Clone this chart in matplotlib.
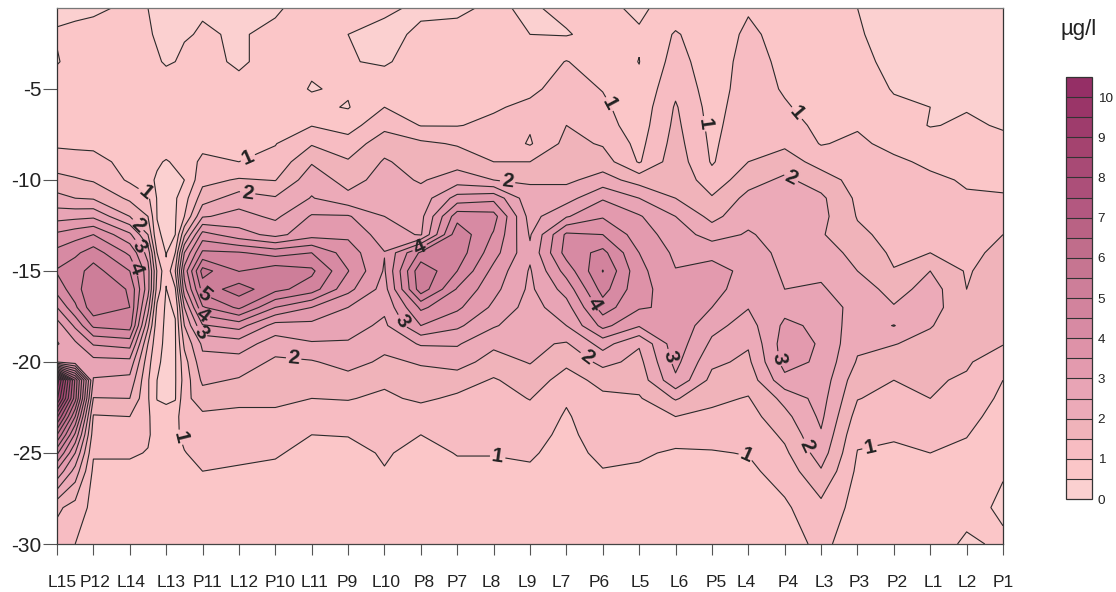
import numpy as np
import matplotlib
matplotlib.use('Agg')
import matplotlib.pyplot as plt
from matplotlib.transforms import ScaledTranslation

plt.rcParams['font.family'] = ['Liberation Sans', 'DejaVu Sans']
plt.rcParams['axes.unicode_minus'] = False

stations = ['L15', 'P12', 'L14', 'L13', 'P11', 'L12', 'P10', 'L11', 'P9', 'L10', 'P8', 'P7', 'L8', 'L9',
            'L7', 'P6', 'L5', 'L6', 'P5', 'L4', 'P4', 'L3', 'P3', 'P2', 'L1', 'L2', 'P1']
label_shift = [5, 2, 1, 5, 5, 5, 5, 3, -1, 2, 3, 0, -2, -3, -5, -4, 1, 4, 4, -2, 3, 3, 2, 3, 3, 1, 0]  # px

# depth of the grid rows (m)
depth = [-0.55, -2, -3.5, -5, -6, -7, -8, -9, -10, -11, -12, -13, -14, -15, -16, -17, -18, -19, -20, -21,
         -22, -23, -24, -25, -26, -28, -30]

# chlorophyll, one profile per station, top to bottom
L15 = [.45, .52, .48, .65, .72, .8, .92, 1.25, 1.65, 2.15, 2.8, 3.6, 4.15, 4.55, 4.2, 3.5, 2.75, 2.45, 3, 10.4, 9.6, 7.6, 6, 4.6, 3.4, 1.6, 1.25]
L15b = [.45, .55, .6, .68, .73, .8, .9, 1.2, 1.55, 2.0, 2.85, 3.8, 4.4, 4.8, 4.8, 4.4, 3.6, 2.9, 2.7, 6.4, 6.2, 5, 3.9, 3, 2.3, 1.3, 1]
P12 = [.45, .6, .65, .7, .75, .82, .9, 1.15, 1.45, 1.95, 2.9, 4.0, 4.75, 5.2, 5.4, 5.35, 4.6, 3.55, 2.82, 2.45, 1.98, 1.45, 1.25, 1.05, .9, .85, .8]
L14 = [.55, .6, .65, .7, .72, .75, .8, .85, .92, 1.4, 2.0, 3.1, 3.9, 4.5, 4.95, 5.0, 4.75, 3.7, 2.85, 2.35, 2.0, 1.5, 1.3, 1.05, .9, .85, .82]
L14b = [.5, .52, .6, .65, .7, .72, .72, .65, .6, 1.1, 1.5, 2, 2.8, 3.2, 3.2, 2.7, 2.1, 1.5, 1.2, 1.05, 1.05, 1.08, 1.05, .98, .9, .85, .82]
L14c = [.45, .48, .52, .6, .65, .7, .7, .55, .45, .47, .49, .55, 1.0, 1.45, 1.3, .9, .7, .62, .55, .5, .48, .7, .85, .9, .88, .83, .8]
L13 = [.42, .42, .48, .6, .65, .7, .7, .47, .42, .42, .42, .43, .47, .6, .48, .42, .42, .42, .42, .42, .45, .6, .75, .85, .85, .82, .8]
L13c = [.43, .45, .5, .6, .65, .7, .72, .55, .42, .44, .46, .5, 1.0, 1.5, .95, .55, .47, .46, .46, .46, .47, .75, .92, .9, .88, .84, .81]
L13b = [.45, .48, .55, .62, .68, .72, .75, .7, .5, .8, 1.0, 1.9, 3, 3.7, 3.3, 2.5, 2, 1.6, 1.3, 1.2, 1.35, 1.4, 1.1, .98, .9, .85, .82]
P11 = [.48, .52, .58, .65, .7, .75, .85, 1.12, 1.35, 1.75, 2.45, 3.7, 4.6, 5.7, 5.2, 4.45, 3.45, 2.6, 2.35, 2.1, 1.75, 1.4, 1.25, 1.15, 1.0, .85, .82]
L12 = [.4, .48, .46, .58, .65, .72, .85, 1.0, 1.55, 2.25, 2.67, 3.2, 4.55, 4.98, 5.75, 5.1, 3.7, 2.75, 2.3, 1.95, 1.6, 1.4, 1.25, 1.1, .95, .85, .82]
P10 = [.47, .55, .6, .65, .7, .8, .98, 1.15, 1.48, 2.05, 2.4, 2.85, 4.3, 5.3, 5.15, 4.0, 2.8, 2.25, 1.9, 1.75, 1.6, 1.4, 1.2, 1.05, .9, .85, .82]
L11 = [.6, .6, .55, .48, .6, .98, 1.45, 1.95, 2.3, 2.53, 3.05, 3.3, 4.5, 5.1, 4.75, 3.5, 2.85, 2.45, 1.95, 1.7, 1.5, 1.25, 1.0, .85, .82, .8, .8]
P9 = [.62, .5, .52, .55, .47, .8, 1.2, 1.55, 1.8, 2.15, 3.05, 3.4, 3.75, 4.02, 3.65, 3.0, 2.7, 2.45, 2.2, 1.8, 1.53, 1.25, 1.02, .85, .82, .8, .8]
L10 = [.55, .42, .46, .7, 1.0, 1.35, 1.8, 2.05, 2.2, 2.35, 2.5, 2.75, 3.02, 2.95, 2.8, 2.6, 2.4, 2.15, 1.9, 1.6, 1.4, 1.25, 1.15, 1.05, .98, .85, .8]
P8 = [.45, .55, .65, .72, .85, .98, 1.6, 1.8, 1.95, 2.2, 2.35, 2.45, 4.6, 5.4, 5.3, 4.1, 3.5, 2.55, 2.05, 1.8, 1.6, 1.2, 1.0, .85, .82, .8, .8]
P7 = [.45, .58, .65, .75, .85, .98, 1.45, 1.8, 2.25, 3.2, 4.3, 4.85, 4.8, 4.5, 3.95, 3.6, 3.1, 2.55, 2.2, 1.75, 1.4, 1.2, 1.1, 1.02, .9, .82, .8]
L8 = [.55, .62, .72, .85, .95, 1.1, 1.35, 1.5, 2.0, 3.35, 4.2, 3.95, 3.7, 3.35, 3.15, 2.9, 2.55, 2.1, 1.8, 1.45, 1.3, 1.2, 1.1, 1.02, .9, .82, .8]
L9 = [.45, .5, .7, .9, 1.1, 1.05, .95, 1.5, 1.95, 2.15, 2.3, 2.45, 2.6, 2.45, 2.4, 2.3, 2.2, 2.1, 2.03, 1.75, 1.52, 1.3, 1.15, 1.05, .95, .82, .8]
L7 = [.6, .47, 1.02, 1.2, 1.3, 1.5, 1.65, 1.8, 1.9, 2.3, 2.95, 4.1, 4.2, 3.7, 3.2, 2.8, 2.5, 1.95, 1.6, 1.3, 1.05, .95, .9, .85, .82, .8, .8]
P6 = [.6, .65, .75, .98, 1.1, 1.2, 1.45, 1.75, 2.2, 2.95, 3.45, 4.0, 4.65, 5.02, 4.7, 4.25, 3.65, 2.7, 2.15, 1.65, 1.4, 1.3, 1.2, 1.1, .98, .82, .8]
L5 = [.42, .55, .49, .6, .68, .75, .85, .95, 1.8, 2.5, 3.05, 3.25, 3.5, 3.65, 3.65, 3.55, 3.05, 2.05, 1.85, 1.7, 1.45, 1.3, 1.15, 1.05, .95, .82, .8]
L6 = [.7, 1.05, 1.2, 1.4, 1.55, 1.62, 1.7, 1.8, 1.9, 2.0, 2.5, 2.75, 2.9, 3.02, 3.25, 3.4, 3.4, 3.3, 3.15, 2.9, 2.05, 1.5, 1.15, .95, .88, .82, .8]
P5 = [.65, .7, .72, .75, .8, .85, .9, .95, 1.2, 1.55, 1.85, 2.3, 2.85, 3.2, 3.2, 3.0, 2.65, 2.4, 2.1, 1.85, 1.6, 1.4, 1.15, .97, .88, .82, .8]
L4 = [.95, 1.1, 1.2, 1.25, 1.3, 1.35, 1.42, 1.5, 1.8, 2.15, 2.35, 2.55, 2.75, 2.85, 2.7, 2.52, 2.3, 2.05, 1.9, 1.7, 1.47, 1.3, 1.12, 1.02, .9, .82, .8]
P4 = [.8, .82, .88, .95, 1.05, 1.2, 1.4, 1.75, 2.1, 2.2, 2.25, 2.3, 2.35, 2.42, 2.5, 2.85, 3.1, 3.25, 3.2, 2.85, 2.15, 1.85, 1.6, 1.4, 1.2, .92, .82]
L3 = [.7, .7, .72, .75, .8, .88, .97, 1.3, 1.75, 2.1, 2.15, 2.05, 2.3, 2.45, 2.53, 2.8, 2.9, 2.95, 2.9, 2.8, 2.7, 2.6, 2.45, 2.25, 1.95, 1.35, 1.1]
P3 = [.5, .52, .55, .65, .75, .95, 1.1, 1.2, 1.3, 1.4, 1.47, 1.6, 1.8, 2.0, 2.35, 2.3, 2.2, 2.1, 1.95, 1.7, 1.52, 1.3, 1.1, .98, .9, .82, .78]
P2 = [.42, .42, .45, .48, .55, .7, .85, 1.1, 1.2, 1.25, 1.3, 1.35, 1.42, 1.52, 1.75, 2.05, 2.52, 2.02, 1.75, 1.5, 1.35, 1.2, 1.05, .92, .88, .8, .75]
L1 = [.4, .4, .42, .45, .5, .48, .7, .9, 1.1, 1.2, 1.3, 1.4, 1.5, 2.0, 2.25, 2.2, 2.03, 1.85, 1.7, 1.55, 1.5, 1.3, 1.1, 1.0, .9, .75, .65]
L2 = [.4, .4, .42, .45, .48, .55, .7, .85, .95, 1.05, 1.15, 1.25, 1.35, 1.45, 1.5, 1.65, 1.7, 1.65, 1.55, 1.45, 1.3, 1.15, 1.02, .9, .8, .6, .45]
P1 = [.38, .38, .4, .42, .44, .47, .58, .75, .88, 1.05, 1.3, 1.5, 1.65, 1.75, 1.8, 1.75, 1.65, 1.52, 1.25, 1.0, .9, .8, .7, .6, .52, .45, .55]

profiles = [L15, L15b, P12, L14, L14b, L14c, L13, L13c, L13b, P11, L12, P10, L11, P9, L10, P8, P7, L8, L9, L7, P6,
            L5, L6, P5, L4, P4, L3, P3, P2, L1, L2, P1]
# the b and c profiles sit between stations, around the L15 patch and the L13 gap
prof_x = [0, 0.5, 1, 2, 2.5, 2.75, 3, 3.25, 3.5] + list(range(4, 27))

levels = np.arange(0, 11, 0.5)
band_colors = ['#fbd0d0', '#fbc6c8', '#f7bcc2', '#f0b3ba', '#ecaab8', '#e8a4b5', '#e39aae', '#de92a8', '#d78aa3',
               '#d2839d', '#cd7e99', '#c67591', '#c06d8b', '#b96284', '#b35880', '#ac4f79', '#a84a75', '#a4436f',
               '#9e3c6c', '#9a3568', '#952f66']
line_color = '#2a2a2a'

# contour labels, (station index, depth)
px_x = lambda px: (px - 57) / 36.4
px_y = lambda px: -0.55 - (px - 8) / 18.2
labels_1 = [(248, 158), (140, 201), (608, 105), (703, 124), (795, 115), (178, 438), (498, 456), (746, 458), (866, 428)]
labels_2 = [(248, 191), (134, 229), (508, 180), (793, 175), (294, 356), (591, 352), (800, 449)]
labels_3 = [(137, 248), (197, 335), (403, 321), (664, 358), (778, 359)]
labels_4 = [(137, 268), (203, 315), (420, 248), (591, 306)]
labels_5 = [(203, 297)]

W, H = 1116, 592
fig = plt.figure(figsize=(W / 100, H / 100), dpi=100)
ax = fig.add_axes([57 / W, 1 - 544 / H, (1003 - 57) / W, (544 - 8) / H])

z = np.column_stack(profiles)
cf = ax.contourf(prof_x, depth, z, levels=levels, colors=band_colors)
plain = [lv for lv in levels if lv not in (1, 2, 3, 4, 5)]
ax.contour(prof_x, depth, z, levels=plain, colors=line_color, linewidths=0.8)

# labelled levels get their own contour set so each one takes only its own spots
for lev, spots in zip([1, 2, 3, 4, 5], [labels_1, labels_2, labels_3, labels_4, labels_5]):
    cs = ax.contour(prof_x, depth, z, levels=[lev], colors=line_color, linewidths=0.8)
    txt = ax.clabel(cs, fmt='%d', fontsize=15, colors='#222222', inline=True, inline_spacing=2,
                    manual=[(px_x(a), px_y(b)) for a, b in spots])
    for t in txt:
        t.set_fontweight('bold')

ax.set_xlim(0, 26)
ax.set_ylim(-30, -0.55)
ax.set_xticks(range(27))
ax.set_xticklabels(stations, fontsize=12.5, color='#222222')
ax.set_yticks([-30, -25, -20, -15, -10, -5])
ax.tick_params(axis='x', length=8, width=0.8, color='#555555', pad=14)
ax.tick_params(axis='y', length=10, width=0.8, color='#555555', pad=1, labelsize=15, labelcolor='#222222')
for lab, s in zip(ax.get_xticklabels(), label_shift):
    lab.set_transform(lab.get_transform() + ScaledTranslation(s / 100, 0, fig.dpi_scale_trans))
ax.spines['top'].set_color('#777777')
ax.spines['right'].set_color('#333333')
ax.spines['left'].set_color('#333333')
ax.spines['bottom'].set_color('#444444')
for s in ax.spines.values():
    s.set_linewidth(0.9)

cax = fig.add_axes([1066 / W, 1 - 499 / H, 26 / W, 422 / H])
cbar = fig.colorbar(cf, cax=cax, drawedges=True)
cbar.set_ticks(range(0, 11))
cbar.ax.minorticks_off()
cbar.ax.tick_params(length=0, pad=4, labelsize=9.7, labelcolor='#222222')
cbar.outline.set_edgecolor('#333333')
cbar.outline.set_linewidth(0.9)
cbar.dividers.set_color('#333333')
cbar.dividers.set_linewidth(0.8)

fig.text(1079 / W, 1 - 30 / H, 'µg/l', fontsize=16, ha='center', va='center', color='#222222')

fig.savefig('out.png', dpi=100)
